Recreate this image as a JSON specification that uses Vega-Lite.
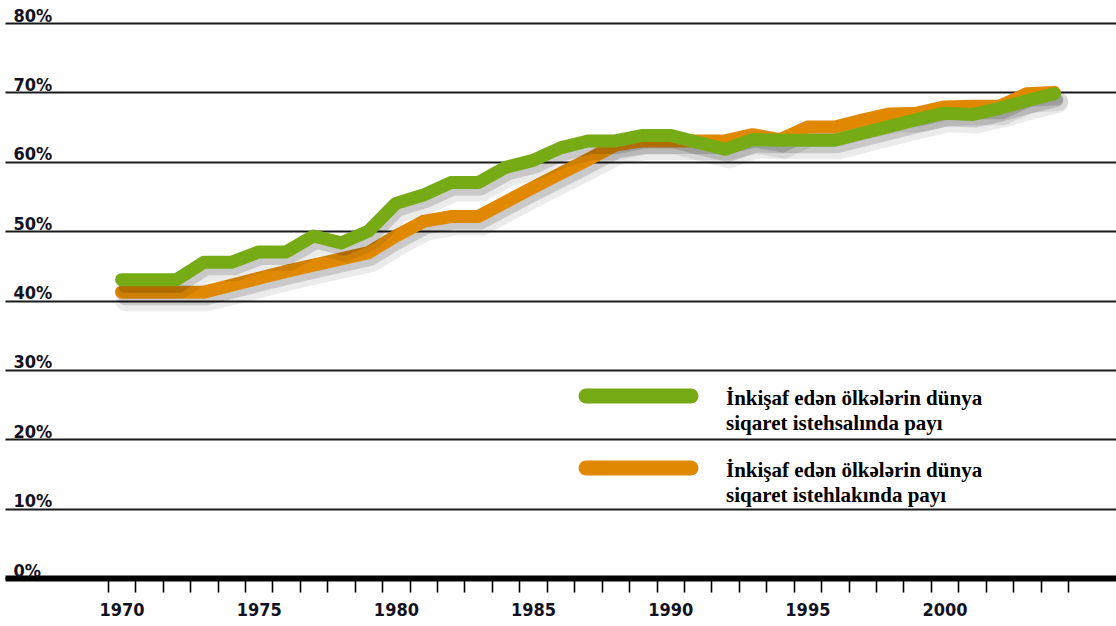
{
  "$schema": "https://vega.github.io/schema/vega-lite/v6.json",
  "width": 1111,
  "height": 555,
  "autosize": {"type": "none"},
  "padding": {"left": 5, "top": 23, "right": 0, "bottom": 48},
  "background": "white",
  "config": {"view": {"stroke": null}},
  "data": {
    "values": [
      {"year": 1970, "series": "İnkişaf edən ölkələrin dünya siqaret istehsalında payı", "share": 43.0},
      {"year": 1971, "series": "İnkişaf edən ölkələrin dünya siqaret istehsalında payı", "share": 43.0},
      {"year": 1972, "series": "İnkişaf edən ölkələrin dünya siqaret istehsalında payı", "share": 43.0},
      {"year": 1973, "series": "İnkişaf edən ölkələrin dünya siqaret istehsalında payı", "share": 45.5},
      {"year": 1974, "series": "İnkişaf edən ölkələrin dünya siqaret istehsalında payı", "share": 45.5},
      {"year": 1975, "series": "İnkişaf edən ölkələrin dünya siqaret istehsalında payı", "share": 47.0},
      {"year": 1976, "series": "İnkişaf edən ölkələrin dünya siqaret istehsalında payı", "share": 47.0},
      {"year": 1977, "series": "İnkişaf edən ölkələrin dünya siqaret istehsalında payı", "share": 49.3},
      {"year": 1978, "series": "İnkişaf edən ölkələrin dünya siqaret istehsalında payı", "share": 48.3},
      {"year": 1979, "series": "İnkişaf edən ölkələrin dünya siqaret istehsalında payı", "share": 50.0},
      {"year": 1980, "series": "İnkişaf edən ölkələrin dünya siqaret istehsalında payı", "share": 54.0},
      {"year": 1981, "series": "İnkişaf edən ölkələrin dünya siqaret istehsalında payı", "share": 55.2},
      {"year": 1982, "series": "İnkişaf edən ölkələrin dünya siqaret istehsalında payı", "share": 57.0},
      {"year": 1983, "series": "İnkişaf edən ölkələrin dünya siqaret istehsalında payı", "share": 57.0},
      {"year": 1984, "series": "İnkişaf edən ölkələrin dünya siqaret istehsalında payı", "share": 59.2},
      {"year": 1985, "series": "İnkişaf edən ölkələrin dünya siqaret istehsalında payı", "share": 60.2},
      {"year": 1986, "series": "İnkişaf edən ölkələrin dünya siqaret istehsalında payı", "share": 62.0},
      {"year": 1987, "series": "İnkişaf edən ölkələrin dünya siqaret istehsalında payı", "share": 63.0},
      {"year": 1988, "series": "İnkişaf edən ölkələrin dünya siqaret istehsalında payı", "share": 63.0},
      {"year": 1989, "series": "İnkişaf edən ölkələrin dünya siqaret istehsalında payı", "share": 63.8},
      {"year": 1990, "series": "İnkişaf edən ölkələrin dünya siqaret istehsalında payı", "share": 63.8},
      {"year": 1991, "series": "İnkişaf edən ölkələrin dünya siqaret istehsalında payı", "share": 62.8},
      {"year": 1992, "series": "İnkişaf edən ölkələrin dünya siqaret istehsalında payı", "share": 61.8},
      {"year": 1993, "series": "İnkişaf edən ölkələrin dünya siqaret istehsalında payı", "share": 63.2},
      {"year": 1994, "series": "İnkişaf edən ölkələrin dünya siqaret istehsalında payı", "share": 63.1},
      {"year": 1995, "series": "İnkişaf edən ölkələrin dünya siqaret istehsalında payı", "share": 63.1},
      {"year": 1996, "series": "İnkişaf edən ölkələrin dünya siqaret istehsalında payı", "share": 63.1},
      {"year": 1997, "series": "İnkişaf edən ölkələrin dünya siqaret istehsalında payı", "share": 64.1},
      {"year": 1998, "series": "İnkişaf edən ölkələrin dünya siqaret istehsalında payı", "share": 65.1},
      {"year": 1999, "series": "İnkişaf edən ölkələrin dünya siqaret istehsalında payı", "share": 66.1},
      {"year": 2000, "series": "İnkişaf edən ölkələrin dünya siqaret istehsalında payı", "share": 67.0},
      {"year": 2001, "series": "İnkişaf edən ölkələrin dünya siqaret istehsalında payı", "share": 66.8},
      {"year": 2002, "series": "İnkişaf edən ölkələrin dünya siqaret istehsalında payı", "share": 67.7},
      {"year": 2003, "series": "İnkişaf edən ölkələrin dünya siqaret istehsalında payı", "share": 68.8},
      {"year": 2004, "series": "İnkişaf edən ölkələrin dünya siqaret istehsalında payı", "share": 69.8},
      {"year": 1970, "series": "İnkişaf edən ölkələrin dünya siqaret istehlakında payı", "share": 41.2},
      {"year": 1971, "series": "İnkişaf edən ölkələrin dünya siqaret istehlakında payı", "share": 41.2},
      {"year": 1972, "series": "İnkişaf edən ölkələrin dünya siqaret istehlakında payı", "share": 41.2},
      {"year": 1973, "series": "İnkişaf edən ölkələrin dünya siqaret istehlakında payı", "share": 41.2},
      {"year": 1974, "series": "İnkişaf edən ölkələrin dünya siqaret istehlakında payı", "share": 42.2},
      {"year": 1975, "series": "İnkişaf edən ölkələrin dünya siqaret istehlakında payı", "share": 43.2},
      {"year": 1976, "series": "İnkişaf edən ölkələrin dünya siqaret istehlakında payı", "share": 44.2},
      {"year": 1977, "series": "İnkişaf edən ölkələrin dünya siqaret istehlakında payı", "share": 45.1},
      {"year": 1978, "series": "İnkişaf edən ölkələrin dünya siqaret istehlakında payı", "share": 46.0},
      {"year": 1979, "series": "İnkişaf edən ölkələrin dünya siqaret istehlakında payı", "share": 46.9},
      {"year": 1980, "series": "İnkişaf edən ölkələrin dünya siqaret istehlakında payı", "share": 49.3},
      {"year": 1981, "series": "İnkişaf edən ölkələrin dünya siqaret istehlakında payı", "share": 51.4},
      {"year": 1982, "series": "İnkişaf edən ölkələrin dünya siqaret istehlakında payı", "share": 52.1},
      {"year": 1983, "series": "İnkişaf edən ölkələrin dünya siqaret istehlakında payı", "share": 52.1},
      {"year": 1984, "series": "İnkişaf edən ölkələrin dünya siqaret istehlakında payı", "share": 54.2},
      {"year": 1985, "series": "İnkişaf edən ölkələrin dünya siqaret istehlakında payı", "share": 56.3},
      {"year": 1986, "series": "İnkişaf edən ölkələrin dünya siqaret istehlakında payı", "share": 58.3},
      {"year": 1987, "series": "İnkişaf edən ölkələrin dünya siqaret istehlakında payı", "share": 60.3},
      {"year": 1988, "series": "İnkişaf edən ölkələrin dünya siqaret istehlakında payı", "share": 62.4},
      {"year": 1989, "series": "İnkişaf edən ölkələrin dünya siqaret istehlakında payı", "share": 63.0},
      {"year": 1990, "series": "İnkişaf edən ölkələrin dünya siqaret istehlakında payı", "share": 63.0},
      {"year": 1991, "series": "İnkişaf edən ölkələrin dünya siqaret istehlakında payı", "share": 63.0},
      {"year": 1992, "series": "İnkişaf edən ölkələrin dünya siqaret istehlakında payı", "share": 63.0},
      {"year": 1993, "series": "İnkişaf edən ölkələrin dünya siqaret istehlakında payı", "share": 63.9},
      {"year": 1994, "series": "İnkişaf edən ölkələrin dünya siqaret istehlakında payı", "share": 63.2},
      {"year": 1995, "series": "İnkişaf edən ölkələrin dünya siqaret istehlakında payı", "share": 65.0},
      {"year": 1996, "series": "İnkişaf edən ölkələrin dünya siqaret istehlakında payı", "share": 65.0},
      {"year": 1997, "series": "İnkişaf edən ölkələrin dünya siqaret istehlakında payı", "share": 66.0},
      {"year": 1998, "series": "İnkişaf edən ölkələrin dünya siqaret istehlakında payı", "share": 66.9},
      {"year": 1999, "series": "İnkişaf edən ölkələrin dünya siqaret istehlakında payı", "share": 67.0},
      {"year": 2000, "series": "İnkişaf edən ölkələrin dünya siqaret istehlakında payı", "share": 67.9},
      {"year": 2001, "series": "İnkişaf edən ölkələrin dünya siqaret istehlakında payı", "share": 68.0},
      {"year": 2002, "series": "İnkişaf edən ölkələrin dünya siqaret istehlakında payı", "share": 68.0},
      {"year": 2003, "series": "İnkişaf edən ölkələrin dünya siqaret istehlakında payı", "share": 69.8},
      {"year": 2004, "series": "İnkişaf edən ölkələrin dünya siqaret istehlakında payı", "share": 70.0}
    ]
  },
  "encoding": {
    "x": {
      "field": "year",
      "type": "quantitative",
      "scale": {"domain": [1965.75, 2006.25], "nice": false, "zero": false},
      "axis": {
        "title": null,
        "values": [1969.5, 1970.5, 1971.5, 1972.5, 1973.5, 1974.5, 1975.5, 1976.5, 1977.5, 1978.5, 1979.5, 1980.5, 1981.5, 1982.5, 1983.5, 1984.5, 1985.5, 1986.5, 1987.5, 1988.5, 1989.5, 1990.5, 1991.5, 1992.5, 1993.5, 1994.5, 1995.5, 1996.5, 1997.5, 1998.5, 1999.5, 2000.5, 2001.5, 2002.5, 2003.5, 2004.5],
        "labelExpr": "((datum.value + 0.5) % 5 == 0 && datum.value < 2004) ? toString(datum.value + 0.5) : ''",
        "labelOffset": 13.7,
        "labelOverlap": false,
        "labelFlush": false,
        "grid": false,
        "domainColor": "#000000",
        "domainWidth": 6,
        "tickColor": "#000000",
        "tickWidth": 1.6,
        "tickSize": 14,
        "labelFont": "DejaVu Sans Condensed, sans-serif",
        "labelFontSize": 18,
        "labelFontWeight": "bold",
        "labelColor": "#111122",
        "labelPadding": 9,
        "labelBaseline": "top"
      }
    },
    "y": {
      "field": "share",
      "type": "quantitative",
      "scale": {"domain": [0, 80], "nice": false},
      "axis": {
        "title": null,
        "values": [0, 10, 20, 30, 40, 50, 60, 70, 80],
        "labelExpr": "datum.value + '%'",
        "grid": true,
        "gridColor": "#1a1a1a",
        "gridWidth": 1.8,
        "domain": false,
        "ticks": false,
        "tickSize": 0,
        "labelAlign": "left",
        "labelBaseline": "alphabetic",
        "labelPadding": -8,
        "labelOffset": -2,
        "labelFont": "DejaVu Sans Condensed, sans-serif",
        "labelFontSize": 18,
        "labelFontWeight": "bold",
        "labelColor": "#111122"
      }
    }
  },
  "layer": [
    {
      "transform": [{"filter": {"field": "series", "equal": "İnkişaf edən ölkələrin dünya siqaret istehlakında payı"}}],
      "mark": {"type": "line", "color": "#000000", "opacity": 0.08, "strokeWidth": 20, "xOffset": 4, "yOffset": 9, "strokeCap": "round", "strokeJoin": "round"}
    },
    {
      "transform": [{"filter": {"field": "series", "equal": "İnkişaf edən ölkələrin dünya siqaret istehlakında payı"}}],
      "mark": {"type": "line", "color": "#000000", "opacity": 0.14, "strokeWidth": 12, "xOffset": 3, "yOffset": 7, "strokeCap": "round", "strokeJoin": "round"}
    },
    {
      "transform": [{"filter": {"field": "series", "equal": "İnkişaf edən ölkələrin dünya siqaret istehlakında payı"}}],
      "mark": {"type": "line", "strokeWidth": 13, "strokeCap": "round", "strokeJoin": "round"},
      "encoding": {
        "color": {
          "field": "series",
          "type": "nominal",
          "scale": {
            "domain": ["İnkişaf edən ölkələrin dünya siqaret istehsalında payı", "İnkişaf edən ölkələrin dünya siqaret istehlakında payı"],
            "range": ["#76AB16", "#E08900"]
          },
          "legend": {
            "title": null,
            "orient": "none",
            "legendX": 612.5,
            "legendY": 352,
            "direction": "vertical",
            "symbolType": "M-4,0H4",
            "symbolSize": 689,
            "symbolStrokeWidth": 15,
            "labelFont": "Liberation Serif, Times New Roman, serif",
            "labelFontSize": 21,
            "labelFontWeight": "bold",
            "labelColor": "#000000",
            "labelLimit": 600,
            "labelOffset": 66.5,
            "labelBaseline": "top",
            "rowPadding": 4,
            "labelExpr": "[slice(datum.label, 0, 28), slice(datum.label, 29)]",
            "encode": {
              "labels": {"update": {"lineHeight": {"value": 25}, "dy": {"value": -8}}},
              "symbols": {"update": {"strokeCap": {"value": "round"}}}
            }
          }
        }
      }
    },
    {
      "transform": [{"filter": {"field": "series", "equal": "İnkişaf edən ölkələrin dünya siqaret istehsalında payı"}}],
      "mark": {"type": "line", "color": "#000000", "opacity": 0.08, "strokeWidth": 20, "xOffset": 4, "yOffset": 9, "strokeCap": "round", "strokeJoin": "round"}
    },
    {
      "transform": [{"filter": {"field": "series", "equal": "İnkişaf edən ölkələrin dünya siqaret istehsalında payı"}}],
      "mark": {"type": "line", "color": "#000000", "opacity": 0.14, "strokeWidth": 12, "xOffset": 3, "yOffset": 7, "strokeCap": "round", "strokeJoin": "round"}
    },
    {
      "transform": [{"filter": {"field": "series", "equal": "İnkişaf edən ölkələrin dünya siqaret istehsalında payı"}}],
      "mark": {"type": "line", "strokeWidth": 13, "strokeCap": "round", "strokeJoin": "round"},
      "encoding": {
        "color": {"field": "series", "type": "nominal"}
      }
    }
  ]
}
